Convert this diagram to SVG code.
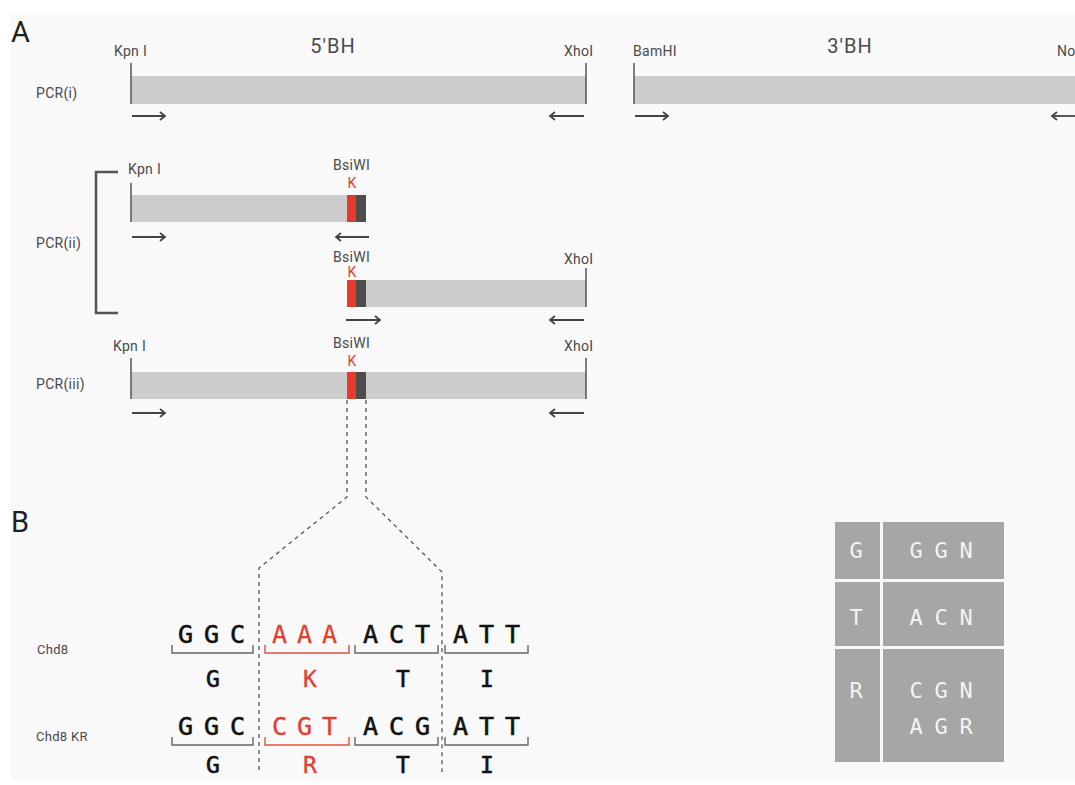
<svg xmlns="http://www.w3.org/2000/svg" width="1075" height="785" viewBox="0 0 1075 785">
<style>
.lbl{font-family:Roboto,"Liberation Sans",sans-serif;font-size:14px;fill:#4a4a4a;letter-spacing:0.3px}
.title{font-family:Roboto,"Liberation Sans",sans-serif;font-size:20px;fill:#4a4a4a;letter-spacing:1px}
.panel{font-family:Roboto,"Liberation Sans",sans-serif;font-size:29px;fill:#1e1e1e}
.k{font-family:Roboto,"Liberation Sans",sans-serif;font-size:14px;fill:#e8392b}
.bar{fill:#cccccc}
.red{fill:#e8392b}
.dark{fill:#4d4d4d}
.tick{stroke:#555;stroke-width:1.5}
.arr{stroke:#444;stroke-width:1.8;fill:none;marker-end:url(#ah)}
.dash{stroke:#555;stroke-width:1.3;fill:none;stroke-dasharray:4 4}
.seq{font-family:"DejaVu Sans Mono",monospace;font-size:25px;fill:#111;stroke:#111;stroke-width:0.6}
.seqr{font-family:"DejaVu Sans Mono",monospace;font-size:25px;fill:#e0402f;stroke:#e0402f;stroke-width:0.3}
.aa{font-family:"DejaVu Sans Mono",monospace;font-size:23px;fill:#111;stroke:#111;stroke-width:0.6;text-anchor:middle}
.aar{font-family:"DejaVu Sans Mono",monospace;font-size:23px;fill:#e0402f;stroke:#e0402f;stroke-width:0.3;text-anchor:middle}
.br{stroke:#666;stroke-width:1.4;fill:none}
.brr{stroke:#e0503f;stroke-width:1.4;fill:none}
.cell{fill:#a6a6a6}
.tt{font-family:"DejaVu Sans Mono",monospace;font-size:22px;fill:#f4f4f4;text-anchor:middle}
</style>
<defs>
<marker id="ah" markerWidth="10" markerHeight="10" refX="7" refY="5" orient="auto" markerUnits="userSpaceOnUse">
<path d="M2,1 L7,5 L2,9" fill="none" stroke="#444" stroke-width="1.8"/>
</marker>
</defs>
<rect x="0" y="0" width="1075" height="785" fill="#ffffff"/>
<rect x="11" y="13" width="1064" height="768" fill="#f9f9f9"/>

<text class="panel" x="11" y="42">A</text>
<text class="panel" x="11" y="532">B</text>

<g id="pcr-i">
<text class="lbl" x="36" y="98">PCR(i)</text>
<text class="title" x="333" y="53" text-anchor="middle">5'BH</text>
<text class="title" x="850" y="53" text-anchor="middle">3'BH</text>
<text class="lbl" x="114" y="56">Kpn I</text>
<text class="lbl" x="564" y="56">XhoI</text>
<text class="lbl" x="633" y="56">BamHI</text>
<text class="lbl" x="1057" y="56">No</text>
<rect class="bar" x="131" y="76" width="455" height="28"/>
<rect class="bar" x="634" y="76" width="441" height="28"/>
<line class="tick" x1="131" y1="63" x2="131" y2="104"/>
<line class="tick" x1="586" y1="63" x2="586" y2="104"/>
<line class="tick" x1="634" y1="63" x2="634" y2="104"/>
</g>

<g id="pcr-ii">
<text class="lbl" x="36" y="248">PCR(ii)</text>
<path d="M118,172 H96 V313 H118" stroke="#555" stroke-width="2.5" fill="none"/>
<text class="lbl" x="128" y="174">Kpn I</text>
<text class="lbl" x="333" y="170">BsiWI</text>
<text class="k" x="352" y="188" text-anchor="middle">K</text>
<rect class="bar" x="131" y="195" width="216" height="27"/>
<rect class="red" x="347" y="195" width="9" height="27"/>
<rect class="dark" x="356" y="195" width="10" height="27"/>
<line class="tick" x1="131" y1="183" x2="131" y2="222"/>
<text class="lbl" x="333" y="262">BsiWI</text>
<text class="k" x="352" y="277" text-anchor="middle">K</text>
<text class="lbl" x="564" y="264">XhoI</text>
<rect class="bar" x="366" y="280" width="220" height="27"/>
<rect class="red" x="347" y="280" width="9" height="27"/>
<rect class="dark" x="356" y="280" width="10" height="27"/>
<line class="tick" x1="586" y1="268" x2="586" y2="307"/>
</g>

<g id="pcr-iii">
<text class="lbl" x="36" y="389">PCR(iii)</text>
<text class="lbl" x="113" y="351">Kpn I</text>
<text class="lbl" x="333" y="348">BsiWI</text>
<text class="k" x="352" y="366" text-anchor="middle">K</text>
<text class="lbl" x="564" y="351">XhoI</text>
<rect class="bar" x="131" y="372" width="455" height="27"/>
<rect class="red" x="347" y="372" width="9" height="27"/>
<rect class="dark" x="356" y="372" width="10" height="27"/>
<line class="tick" x1="131" y1="358" x2="131" y2="399"/>
<line class="tick" x1="586" y1="358" x2="586" y2="399"/>
</g>

<g id="connectors">
<line class="arr" x1="132" y1="116" x2="165" y2="116"/>
<line class="arr" x1="584" y1="116" x2="550" y2="116"/>
<line class="arr" x1="635" y1="116" x2="668" y2="116"/>
<line class="arr" x1="1080" y1="116" x2="1052" y2="116"/>
<line class="arr" x1="132" y1="237" x2="165" y2="237"/>
<line class="arr" x1="369" y1="237" x2="336" y2="237"/>
<line class="arr" x1="346" y1="320" x2="380" y2="320"/>
<line class="arr" x1="584" y1="320" x2="550" y2="320"/>
<line class="arr" x1="132" y1="413" x2="165" y2="413"/>
<line class="arr" x1="584" y1="413" x2="550" y2="413"/>
<path class="dash" d="M347,400 V497 L259,568 V772"/>
<path class="dash" d="M366,400 V497 L442,572 V772"/>
</g>

<g id="seq-chd8">
<text class="lbl" x="37" y="654" style="font-size:13px">Chd8</text>
<text class="seq" x="178 204 230" y="643">GGC</text>
<text class="seqr" x="272 297 322" y="643">AAA</text>
<text class="seq" x="363 389 415" y="643">ACT</text>
<text class="seq" x="453 479 505" y="643">ATT</text>
<path class="br" d="M172,645 V653 H253 V645"/>
<path class="brr" d="M265,645 V653 H349 V645"/>
<path class="br" d="M355,645 V653 H438 V645"/>
<path class="br" d="M445,645 V653 H528 V645"/>
<text class="aa" x="213" y="687">G</text>
<text class="aar" x="310" y="687">K</text>
<text class="aa" x="403" y="687">T</text>
<text class="aa" x="487" y="687">I</text>
</g>

<g id="seq-chd8kr">
<text class="lbl" x="36" y="741" style="font-size:13px">Chd8 KR</text>
<text class="seq" x="178 204 230" y="735">GGC</text>
<text class="seqr" x="272 297 322" y="735">CGT</text>
<text class="seq" x="363 389 415" y="735">ACG</text>
<text class="seq" x="453 479 505" y="735">ATT</text>
<path class="br" d="M172,737 V745 H253 V737"/>
<path class="brr" d="M265,737 V745 H349 V737"/>
<path class="br" d="M355,737 V745 H438 V737"/>
<path class="br" d="M445,737 V745 H528 V737"/>
<text class="aa" x="213" y="773">G</text>
<text class="aar" x="310" y="773">R</text>
<text class="aa" x="403" y="773">T</text>
<text class="aa" x="487" y="773">I</text>
</g>

<g id="codon-table">
<rect class="cell" x="835" y="522" width="45" height="57"/>
<rect class="cell" x="883" y="522" width="121" height="57"/>
<rect class="cell" x="835" y="582" width="45" height="64"/>
<rect class="cell" x="883" y="582" width="121" height="64"/>
<rect class="cell" x="835" y="649" width="45" height="113"/>
<rect class="cell" x="883" y="649" width="121" height="113"/>
<text class="tt" x="856" y="558">G</text>
<text class="tt" x="916 941 966" y="558">GGN</text>
<text class="tt" x="856" y="625">T</text>
<text class="tt" x="916 941 966" y="625">ACN</text>
<text class="tt" x="856" y="698">R</text>
<text class="tt" x="916 941 966" y="698">CGN</text>
<text class="tt" x="916 941 966" y="734">AGR</text>
</g>
</svg>
